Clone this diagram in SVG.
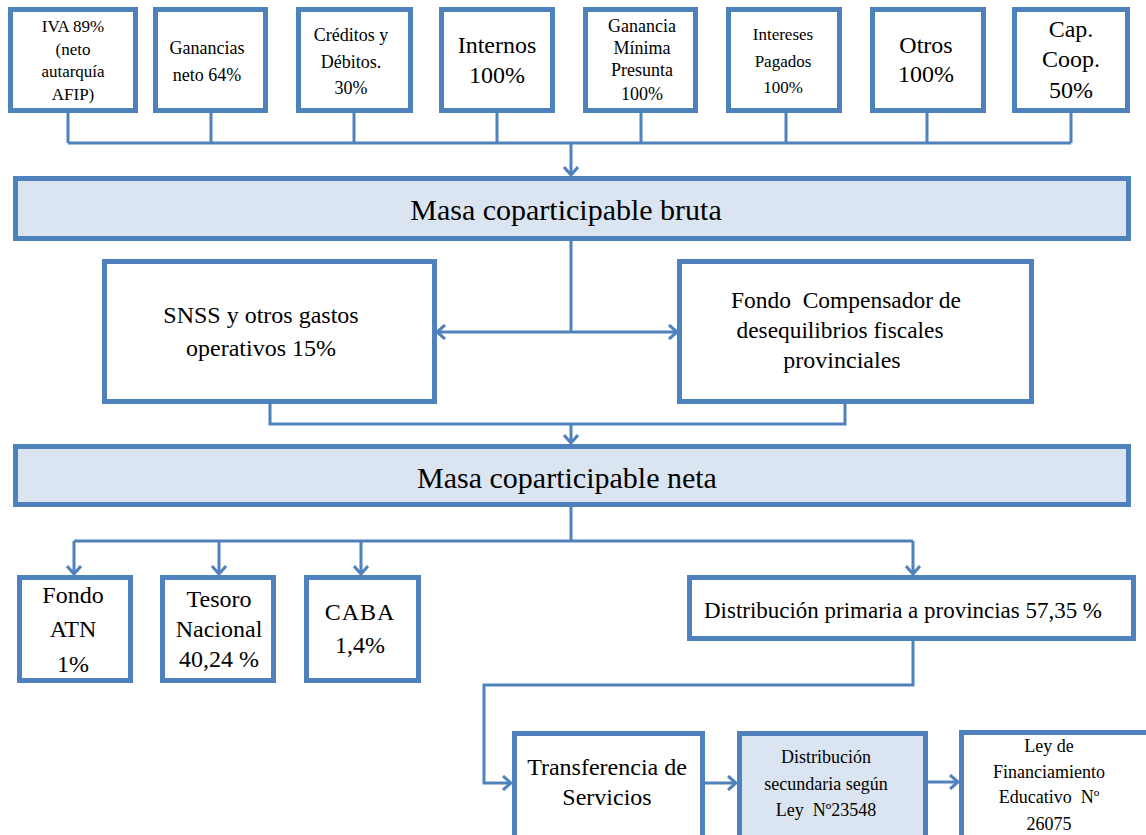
<svg xmlns="http://www.w3.org/2000/svg" width="1146" height="835" viewBox="0 0 1146 835">
<defs>
<style>
.box{fill:#ffffff;stroke:#4F81BD;stroke-width:5}
.hl{fill:#DBE5F1;stroke:#4F81BD;stroke-width:5}
.c{fill:none;stroke:#4F81BD;stroke-width:3}
text{font-family:"Liberation Serif","Times New Roman",serif;fill:#000;text-anchor:middle}
.s17{font-size:17px}.s18{font-size:18px}.s24{font-size:24px}.s30{font-size:30px}
</style>
<marker id="ah" markerUnits="userSpaceOnUse" markerWidth="14" markerHeight="16" refX="10" refY="8" orient="auto">
<path d="M2,1 L10,8 L2,15" fill="none" stroke="#4F81BD" stroke-width="3"/>
</marker>
</defs>
<rect width="1146" height="835" fill="#ffffff"/>

<g id="connectors">
<path class="c" d="M68,113 V143 M211,113 V143 M354,113 V143 M497,113 V143 M641,113 V143 M786,113 V143 M927,113 V143 M1071,113 V143 M68,143 H1071"/>
<path class="c" d="M571,143 V175" marker-end="url(#ah)"/>
<path class="c" d="M571,241 V332"/>
<path class="c" d="M571,332 H437" marker-end="url(#ah)"/>
<path class="c" d="M571,332 H677" marker-end="url(#ah)"/>
<path class="c" d="M270,404 V424 H845 V404"/>
<path class="c" d="M571,424 V443" marker-end="url(#ah)"/>
<path class="c" d="M571,507 V541 M74,541 H913"/>
<path class="c" d="M74,541 V574" marker-end="url(#ah)"/>
<path class="c" d="M219,541 V574" marker-end="url(#ah)"/>
<path class="c" d="M361,541 V574" marker-end="url(#ah)"/>
<path class="c" d="M913,541 V574" marker-end="url(#ah)"/>
<path class="c" d="M913,641 V685 H484 V783 H511" marker-end="url(#ah)"/>
<path class="c" d="M705,783 H736" marker-end="url(#ah)"/>
<path class="c" d="M928,782 H958" marker-end="url(#ah)"/>
</g>

<g id="n-iva"><rect class="box" x="10.5" y="9.5" width="125" height="101"/>
<text class="s17" x="73" y="32">IVA 89%</text><text class="s17" x="73" y="55">(neto</text><text class="s17" x="73" y="77">autarquía</text><text class="s17" x="73" y="100">AFIP)</text></g>
<g id="n-ganancias"><rect class="box" x="155.5" y="9.5" width="110" height="101"/>
<text class="s18" x="207" y="54">Ganancias</text><text class="s18" x="207" y="81">neto 64%</text></g>
<g id="n-creditos"><rect class="box" x="298.5" y="9.5" width="112" height="101"/>
<text class="s18" x="351" y="41">Créditos y</text><text class="s18" x="351" y="68">Débitos.</text><text class="s18" x="351" y="94">30%</text></g>
<g id="n-internos"><rect class="box" x="441.5" y="9.5" width="111" height="101"/>
<text class="s24" x="497" y="53">Internos</text><text class="s24" x="497" y="83">100%</text></g>
<g id="n-gmp"><rect class="box" x="585.5" y="9.5" width="110" height="101"/>
<text class="s18" x="642" y="32">Ganancia</text><text class="s18" x="642" y="54">Mínima</text><text class="s18" x="642" y="76">Presunta</text><text class="s18" x="642" y="100">100%</text></g>
<g id="n-intereses"><rect class="box" x="728.5" y="9.5" width="111" height="101"/>
<text class="s17" x="783" y="40">Intereses</text><text class="s17" x="783" y="67">Pagados</text><text class="s17" x="783" y="93">100%</text></g>
<g id="n-otros"><rect class="box" x="872.5" y="9.5" width="111" height="101"/>
<text class="s24" x="926" y="53">Otros</text><text class="s24" x="926" y="82">100%</text></g>
<g id="n-cap"><rect class="box" x="1014.5" y="9.5" width="113" height="101"/>
<text class="s24" x="1071" y="37">Cap.</text><text class="s24" x="1071" y="67">Coop.</text><text class="s24" x="1071" y="98">50%</text></g>

<g id="n-bruta"><rect class="hl" x="15.5" y="178.5" width="1113" height="60"/>
<text class="s30" x="566" y="220">Masa coparticipable bruta</text></g>

<g id="n-snss"><rect class="box" x="104.5" y="261.5" width="330" height="140"/>
<text class="s24" x="261" y="323">SNSS y otros gastos</text><text class="s24" x="261" y="356">operativos 15%</text></g>
<g id="n-fondo-comp"><rect class="box" x="679.5" y="261.5" width="352" height="140"/>
<text class="s24" x="846" y="308" xml:space="preserve" textLength="230" lengthAdjust="spacingAndGlyphs">Fondo  Compensador de</text>
<text class="s24" x="840" y="338" textLength="207" lengthAdjust="spacingAndGlyphs">desequilibrios fiscales</text>
<text class="s24" x="842" y="368">provinciales</text></g>

<g id="n-neta"><rect class="hl" x="15.5" y="446.5" width="1113" height="58"/>
<text class="s30" x="567" y="488">Masa coparticipable neta</text></g>

<g id="n-atn"><rect class="box" x="19.5" y="577.5" width="111" height="103"/>
<text class="s24" x="73" y="603">Fondo</text><text class="s24" x="73" y="637">ATN</text><text class="s24" x="73" y="672">1%</text></g>
<g id="n-tesoro"><rect class="box" x="162.5" y="577.5" width="111" height="103"/>
<text class="s24" x="219" y="607">Tesoro</text><text class="s24" x="219" y="637">Nacional</text><text class="s24" x="219" y="667">40,24 %</text></g>
<g id="n-caba"><rect class="box" x="306.5" y="577.5" width="112" height="103"/>
<text class="s24" x="360" y="620" letter-spacing="1">CABA</text><text class="s24" x="360" y="653">1,4%</text></g>
<g id="n-primaria"><rect class="box" x="689.5" y="577.5" width="444" height="61"/>
<text class="s24" x="903" y="618" textLength="398" lengthAdjust="spacingAndGlyphs">Distribución primaria a provincias 57,35 %</text></g>

<g id="n-transferencia"><rect class="box" x="514.5" y="733.5" width="188" height="130"/>
<text class="s24" x="607" y="775">Transferencia de</text><text class="s24" x="607" y="805">Servicios</text></g>
<g id="n-secundaria"><rect class="hl" x="739.5" y="733.5" width="186" height="130"/>
<text class="s18" x="826" y="763">Distribución</text><text class="s18" x="826" y="790">secundaria según</text><text class="s18" x="826" y="816" xml:space="preserve">Ley  Nº23548</text></g>
<g id="n-ley"><rect class="box" x="961.5" y="732.5" width="200" height="130"/>
<text class="s18" x="1049" y="752">Ley de</text><text class="s18" x="1049" y="778">Financiamiento</text><text class="s18" x="1049" y="803" xml:space="preserve">Educativo  Nº</text><text class="s18" x="1049" y="830">26075</text></g>
</svg>
